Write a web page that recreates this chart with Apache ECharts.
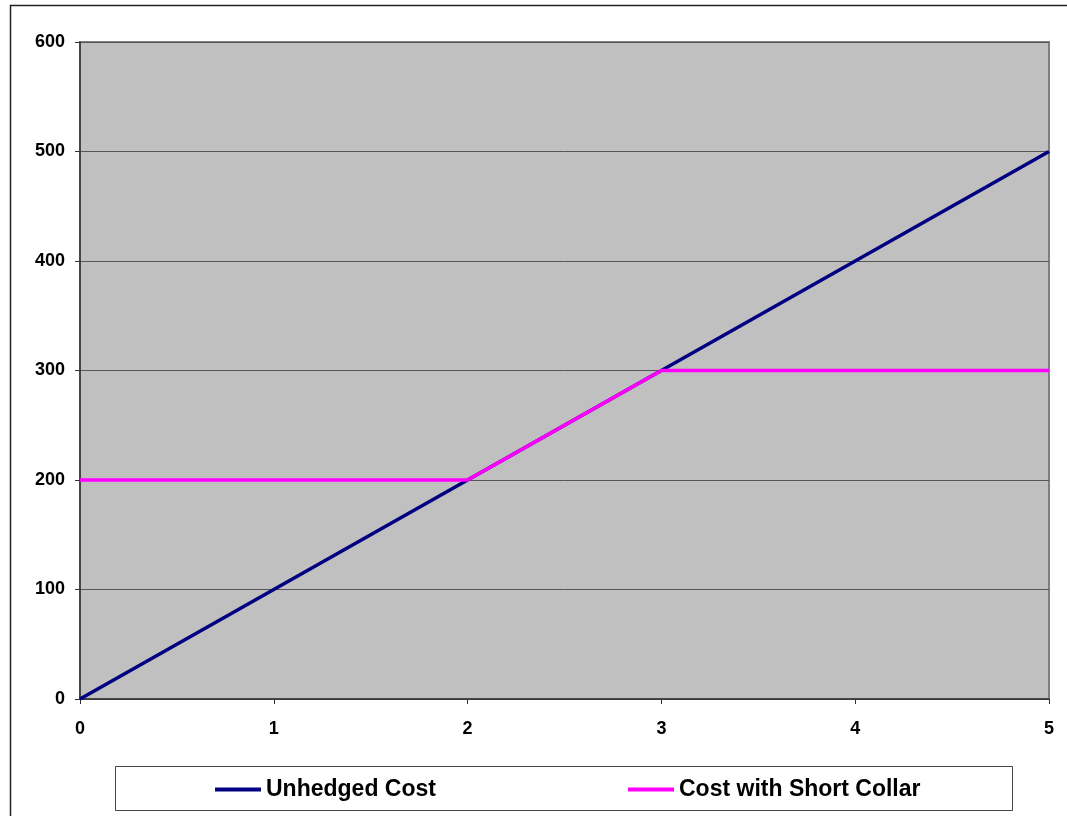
<!DOCTYPE html>
<html>
<head>
<meta charset="utf-8">
<script src="https://cdn.jsdelivr.net/npm/echarts@6/dist/echarts.min.js"></script>
<style>
  html, body { margin: 0; padding: 0; background: #fff; }
  #chart { width: 1067px; height: 816px; }
</style>
</head>
<body>
<div id="chart"></div>
<script>
// Price points (x) and the two cost profiles
const prices = [0, 1, 2, 3, 4, 5];
const unhedgedCost = [0, 100, 200, 300, 400, 500];
const collarCost = [200, 200, 200, 300, 300, 300];
const yTicks = [0, 100, 200, 300, 400, 500, 600];

const seriesNames = ['Unhedged Cost', 'Cost with Short Collar'];
const seriesColors = ['#000080', '#FF00FF'];

const chart = echarts.init(document.getElementById('chart'), null, { renderer: 'canvas' });

const fontFamily = 'Liberation Sans, Arial, sans-serif';
const labelFont = { fontFamily: fontFamily, fontWeight: 'bold', fontSize: 18, color: '#000' };
const legendText = { fontFamily: fontFamily, fontWeight: 'bold', fontSize: 23, color: '#000' };

function toPairs(xs, ys) { return xs.map((x, i) => [x, ys[i]]); }

function legendAt(name, left) {
  return {
    data: [{ name: name, icon: 'rect' }], left: left, top: 773,
    itemWidth: 46, itemHeight: 4, itemGap: 4,
    textStyle: legendText
  };
}

chart.setOption({
  animation: false,
  backgroundColor: '#fff',
  grid: {
    left: 80, right: 18, top: 42, bottom: 117,
    show: true, backgroundColor: '#C0C0C0', borderColor: '#808080', borderWidth: 2
  },
  xAxis: {
    type: 'value', min: prices[0], max: prices[prices.length - 1], interval: 1,
    axisLine: { show: true, lineStyle: { color: '#333', width: 1.5 } },
    axisTick: { show: true, length: 5, lineStyle: { color: '#333' } },
    axisLabel: Object.assign({ margin: 21 }, labelFont),
    splitLine: { show: false }
  },
  yAxis: {
    type: 'value', min: yTicks[0], max: yTicks[yTicks.length - 1], interval: 100,
    axisLine: { show: true, lineStyle: { color: '#333', width: 1.5 } },
    axisTick: { show: true, length: 5, lineStyle: { color: '#333' } },
    axisLabel: Object.assign({ margin: 15 }, labelFont),
    splitLine: { show: true, lineStyle: { color: '#555', width: 1 } }
  },
  legend: [legendAt(seriesNames[0], 210), legendAt(seriesNames[1], 623)],
  series: [
    {
      name: seriesNames[0], type: 'line', data: toPairs(prices, unhedgedCost),
      symbol: 'none', lineStyle: { color: seriesColors[0], width: 3.5 }, itemStyle: { color: seriesColors[0] }
    },
    {
      name: seriesNames[1], type: 'line', data: toPairs(prices, collarCost),
      symbol: 'none', lineStyle: { color: seriesColors[1], width: 3.5 }, itemStyle: { color: seriesColors[1] }
    }
  ],
  graphic: [
    { type: 'rect', shape: { x: 10.5, y: 5.5, width: 1100, height: 900 }, style: { fill: 'none', stroke: '#222', lineWidth: 1.5 }, silent: true },
    { type: 'rect', shape: { x: 115.5, y: 766.5, width: 897, height: 44 }, style: { fill: 'none', stroke: '#444', lineWidth: 1 }, silent: true, z: -1 }
  ]
});
</script>
</body>
</html>
